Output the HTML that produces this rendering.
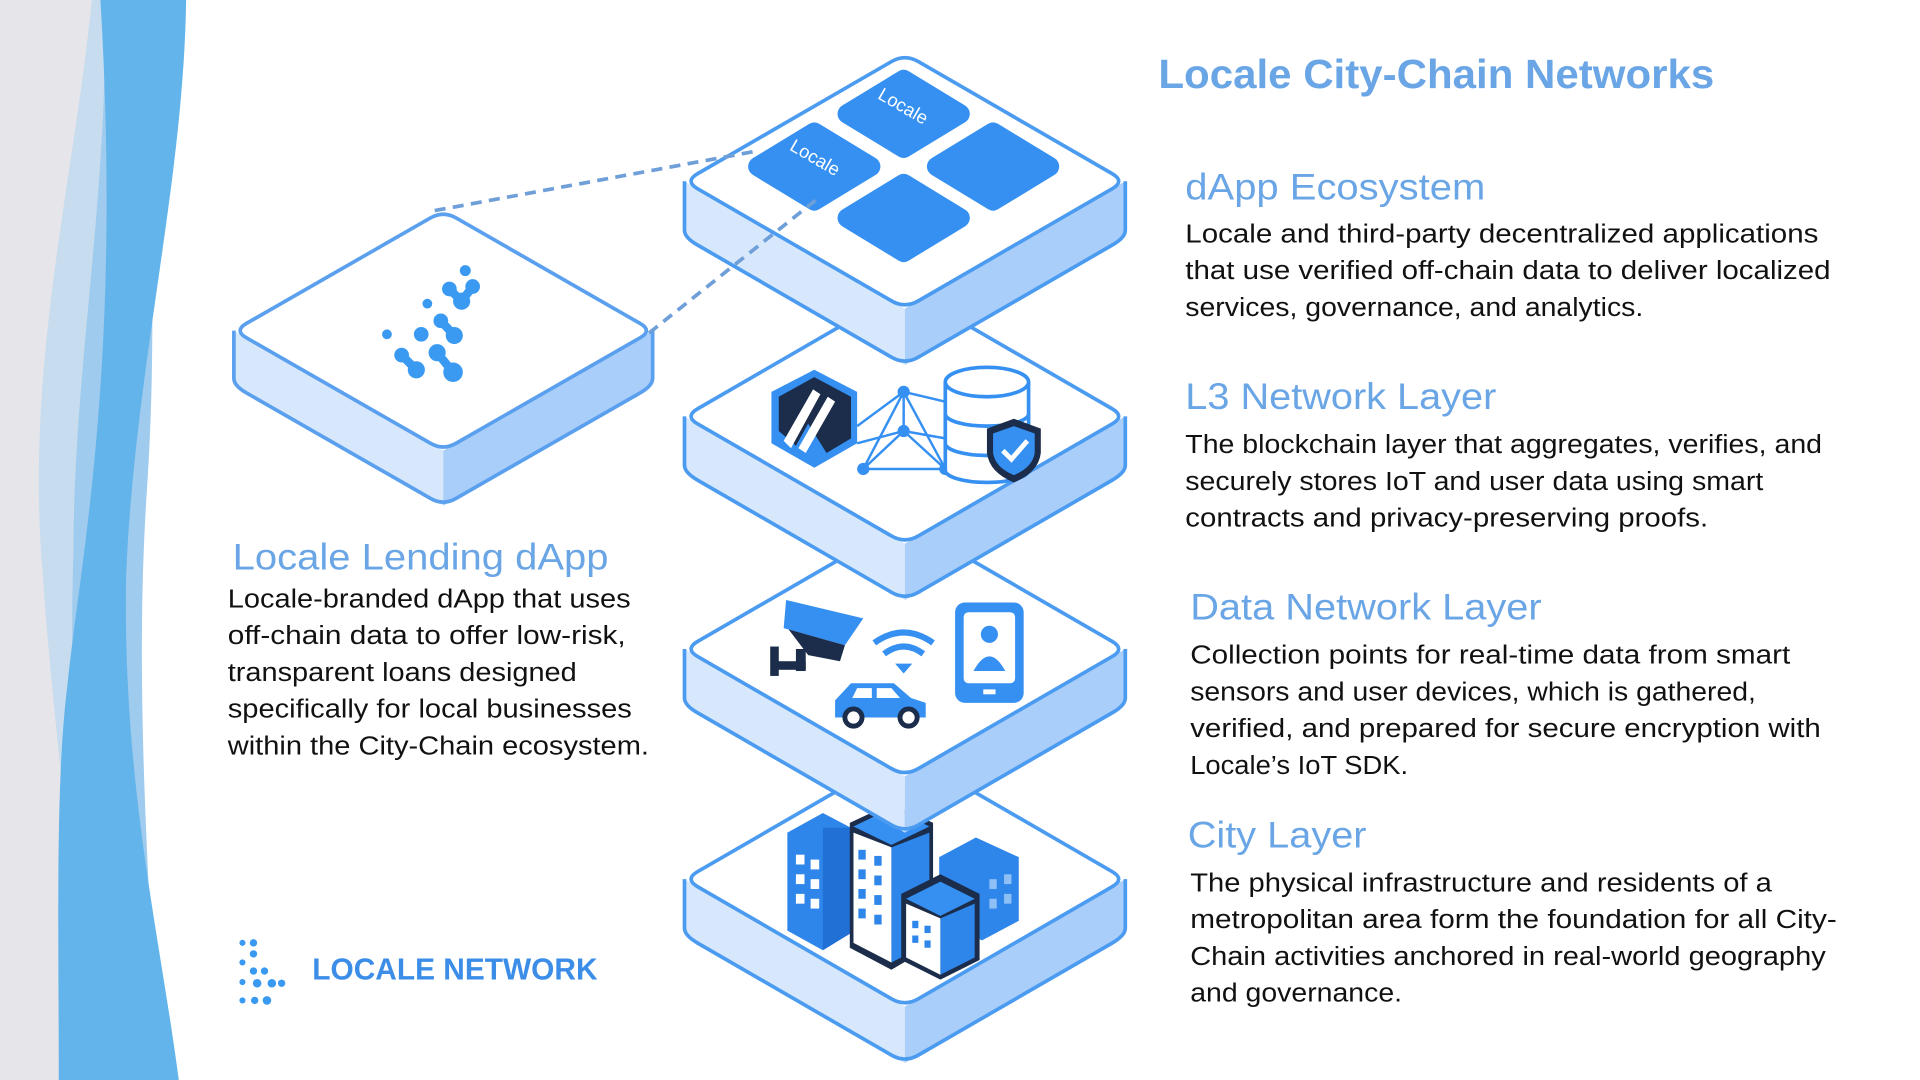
<!DOCTYPE html>
<html><head><meta charset="utf-8"><style>
html,body{margin:0;padding:0;background:#fff;overflow:hidden}
svg{display:block}
text{font-family:"Liberation Sans","DejaVu Sans",sans-serif}
</style></head><body>
<svg width="1920" height="1080" viewBox="0 0 1568 882" preserveAspectRatio="none" xmlns="http://www.w3.org/2000/svg">
<defs>
<g id="tile">
  <path d="M559,0 L739,104 L739,150 L569.8,52.2 Q559,46 559,40 Z" fill="#d7e8fd"/>
  <path d="M739,104 L919,0 L919,40 Q919,46 908.2,52.2 L739,150 Z" fill="#a9cefa"/>
  <path d="M559,0 L559,40 Q559,46 569.8,52.2 L728.2,143.8 Q739,150 749.8,143.8 L908.2,52.2 Q919,46 919,40 L919,0" fill="none" stroke="#4b9bf0" stroke-width="3"/>
  <path d="M749.8,-97.8 L908.2,-6.2 Q919,0 908.2,6.2 L749.8,97.8 Q739,104 728.2,97.8 L569.8,6.2 Q559,0 569.8,-6.2 L728.2,-97.8 Q739,-104 749.8,-97.8Z" fill="#fff" stroke="#4b9bf0" stroke-width="3"/>
</g>
<g id="sq"><path d="M0,-28 L46,0 L0,28 L-46,0 Z" fill="#3590f2" stroke="#3590f2" stroke-width="16" stroke-linejoin="round"/></g>
</defs>
<rect width="1568" height="882" fill="#fff"/>
<rect x="0" y="0" width="100" height="882" fill="#e5e5ea"/>
<path d="M75,0 C60,150 20,300 35,470 C45,620 70,760 60,882 L100,882 L100,0Z" fill="#c7dcee"/>
<path d="M85,0 C90,150 60,300 60,450 C55,600 70,750 75,882 L130,882 C120,700 110,550 120,400 C130,250 120,120 120,0Z" fill="#9fcbee"/>
<path d="M82,0 L152,0 C150,150 110,300 103,470 C100,640 130,760 146,882 L48,882 C48,760 45,640 55,560 C65,460 100,300 82,0Z" fill="#63b4ea"/>

<use href="#tile" transform="translate(0,718)"/>
<g>
 <path d="M643,680 L672,664 L695,676 L695,762 L672,776 L643,760Z" fill="#2f86ea"/>
 <path d="M672,676 L695,676 L695,762 L672,776Z" fill="#2170d6"/>
 <g fill="#fff"><rect x="650" y="698" width="7" height="8"/><rect x="662" y="702" width="7" height="8"/><rect x="650" y="714" width="7" height="8"/><rect x="662" y="718" width="7" height="8"/><rect x="650" y="730" width="7" height="8"/><rect x="662" y="734" width="7" height="8"/></g>
 <path d="M694,672 L728,656 L762,672 L762,772 L728,792 L694,774Z" fill="#1b2d4a"/>
 <path d="M697,675 L728,660 L759,675 L728,690Z" fill="#3590f2"/>
 <path d="M697,680 L728,692 L728,786 L697,770Z" fill="#fff"/>
 <path d="M728,692 L759,680 L759,770 L728,786Z" fill="#2f86ea"/>
 <g fill="#2f86ea"><rect x="701" y="694" width="6" height="8"/><rect x="714" y="699" width="6" height="8"/><rect x="701" y="710" width="6" height="8"/><rect x="714" y="715" width="6" height="8"/><rect x="701" y="726" width="6" height="8"/><rect x="714" y="731" width="6" height="8"/><rect x="701" y="742" width="6" height="8"/><rect x="714" y="747" width="6" height="8"/></g>
 <path d="M767,700 L797,684 L832,700 L832,752 L802,768 L767,752Z" fill="#2f86ea"/>
 <g fill="#8ec0f6"><rect x="808" y="718" width="6" height="8"/><rect x="820" y="714" width="6" height="8"/><rect x="808" y="734" width="6" height="8"/><rect x="820" y="730" width="6" height="8"/></g>
 <path d="M736,730 L768,714 L800,730 L800,784 L768,800 L736,784Z" fill="#1b2d4a"/>
 <path d="M740,734 L768,720 L796,734 L768,748Z" fill="#3590f2"/>
 <path d="M740,738 L768,750 L768,796 L740,782Z" fill="#fff"/>
 <path d="M768,750 L796,738 L796,782 L768,796Z" fill="#2f86ea"/>
 <g fill="#2f86ea"><rect x="745" y="752" width="5" height="6"/><rect x="755" y="756" width="5" height="6"/><rect x="745" y="764" width="5" height="6"/><rect x="755" y="768" width="5" height="6"/></g>
</g>

<use href="#tile" transform="translate(0,530)"/>
<g>
 <path d="M642,490 L705,505 L690,527 L640,513Z" fill="#3590f2"/>
 <path d="M644,514 L690,527 L686,540 L660,535 Z" fill="#1b2d4a"/>
 <rect x="650" y="530" width="8" height="18" fill="#1b2d4a"/>
 <rect x="630" y="540" width="28" height="7" fill="#1b2d4a"/>
 <rect x="629" y="528" width="7" height="24" fill="#1b2d4a"/>
 <path d="M714,525 Q738,508 762,525" stroke="#3590f2" stroke-width="5" fill="none"/>
 <path d="M722,534 Q738,522 754,534" stroke="#3590f2" stroke-width="5" fill="none"/>
 <path d="M731,542 L745,542 L738,550Z" fill="#3590f2"/>
 <path d="M682,572 L695,558 L730,558 L744,570 L756,574 L756,586 L682,586Z" fill="#3590f2"/>
 <path d="M700,562 L712,562 L712,570 L696,570Z M716,562 L728,562 L735,570 L716,570Z" fill="#fff"/>
 <circle cx="697" cy="586" r="7" fill="#fff" stroke="#1b2d4a" stroke-width="4"/>
 <circle cx="742" cy="586" r="7" fill="#fff" stroke="#1b2d4a" stroke-width="4"/>
 <rect x="780" y="492" width="56" height="82" rx="8" fill="#3590f2"/>
 <rect x="787" y="500" width="42" height="58" rx="4" fill="#fff"/>
 <circle cx="808" cy="518" r="7" fill="#3590f2"/>
 <path d="M795,548 Q808,524 821,548Z" fill="#3590f2"/>
 <rect x="803" y="563" width="10" height="4" fill="#fff"/>
</g>

<use href="#tile" transform="translate(0,340)"/>
<g>
 <g stroke="#3590f2" stroke-width="2" fill="none"><path d="M700,348 L738,320 L772,328 M700,362 L738,352 L772,358 M738,320 L738,352 L705,383 L772,383 L738,352 M705,383 L738,320 M772,383 L738,320"/></g>
 <g fill="#3590f2"><circle cx="738" cy="320" r="5"/><circle cx="738" cy="352" r="5"/><circle cx="705" cy="383" r="5"/><circle cx="772" cy="383" r="5"/></g>
 <path d="M665,302 L700,320 L700,362 L665,382 L630,362 L630,320Z" fill="#3590f2"/>
 <path d="M665,308 L695,324 L695,358 L675,370 L660,346 L650,364 L636,352 L636,324Z" fill="#1b2d4a"/>
 <path d="M640,360 L664,318 L670,322 L646,366Z M652,366 L676,324 L682,328 L658,370Z" fill="#fff"/>
 <g fill="#fff" stroke="#3590f2" stroke-width="3">
  <path d="M772,362 L772,384 A34,10 0 0 0 840,384 L840,362"/>
  <path d="M772,338 L772,362 A34,10 0 0 0 840,362 L840,338"/>
  <path d="M772,312 L772,338 A34,10 0 0 0 840,338 L840,312"/>
  <ellipse cx="806" cy="312" rx="34" ry="12"/>
 </g>
 <path d="M828,342 L850,350 L850,370 Q848,386 828,394 Q808,386 806,370 L806,350Z" fill="#1b2d4a"/>
 <path d="M828,348 L845,354 L845,370 Q843,382 828,388 Q813,382 811,370 L811,354Z" fill="#3590f2"/>
 <path d="M819,368 L826,375 L839,360" stroke="#fff" stroke-width="4" fill="none"/>
</g>

<use href="#tile" transform="translate(0,148)"/>
<use href="#sq" transform="translate(738,93)"/>
<use href="#sq" transform="translate(665,136)"/>
<use href="#sq" transform="translate(811,136)"/>
<use href="#sq" transform="translate(738,178)"/>
<text x="0" y="0" transform="translate(716,80) rotate(30)" fill="#fff" font-size="15">Locale</text>
<text x="0" y="0" transform="translate(644,122) rotate(30)" fill="#fff" font-size="15">Locale</text>

<!-- left tile -->
<path d="M191,270 L362,368 L362,413 L201.3,320.9 Q191,315 191,309Z" fill="#d7e8fd"/>
<path d="M362,368 L533,270 L533,309 Q533,315 522.7,320.9 L362,413Z" fill="#a9cefa"/>
<path d="M191,270 L191,309 Q191,315 201.3,320.9 L351.7,407.1 Q362,413 372.3,407.1 L522.7,320.9 Q533,315 533,309 L533,270" fill="none" stroke="#5aa0ee" stroke-width="3"/>
<path d="M372.3,177.9 L522.7,264.1 Q533,270 522.7,275.9 L372.3,362.1 Q362,368 351.7,362.1 L201.3,275.9 Q191,270 201.3,264.1 L351.7,177.9 Q362,172 372.3,177.9Z" fill="#fff" stroke="#5aa0ee" stroke-width="3"/>
<g fill="#3a9af2">
 <circle cx="380" cy="221" r="4.5"/><circle cx="367" cy="236" r="6"/><circle cx="386" cy="234" r="6"/><circle cx="377" cy="246" r="7"/>
 <path d="M367,236 L377,246 L386,234" stroke="#3a9af2" stroke-width="7" fill="none"/>
 <circle cx="349" cy="248" r="4"/><circle cx="360" cy="262" r="6"/><circle cx="371" cy="274" r="7"/>
 <path d="M360,262 L371,274" stroke="#3a9af2" stroke-width="7"/>
 <circle cx="316" cy="273" r="4"/><circle cx="344" cy="273" r="6"/>
 <circle cx="328" cy="290" r="6"/><circle cx="340" cy="302" r="7"/><path d="M328,290 L340,302" stroke="#3a9af2" stroke-width="7"/>
 <circle cx="357" cy="288" r="7"/><circle cx="370" cy="304" r="8"/><path d="M357,288 L370,304" stroke="#3a9af2" stroke-width="7"/>
</g>
<g stroke="#6f9fd8" stroke-width="3" stroke-dasharray="9,6" fill="none"><path d="M355,172 L620,123"/><path d="M530,272 L668,162"/></g>

<text x="946" y="72" fill="#6aa5e6" font-size="33" font-weight="bold" textLength="454" lengthAdjust="spacingAndGlyphs">Locale City-Chain Networks</text>
<g fill="#6aa5e6" font-size="30">
<text x="968" y="163" textLength="245" lengthAdjust="spacingAndGlyphs">dApp Ecosystem</text>
<text x="968" y="334" textLength="254" lengthAdjust="spacingAndGlyphs">L3 Network Layer</text>
<text x="972" y="506" textLength="287" lengthAdjust="spacingAndGlyphs">Data Network Layer</text>
<text x="970" y="692" textLength="146" lengthAdjust="spacingAndGlyphs">City Layer</text>
<text x="190" y="465" textLength="307" lengthAdjust="spacingAndGlyphs">Locale Lending dApp</text>
</g>
<g fill="#111" font-size="21">
<text x="968" y="198" textLength="517" lengthAdjust="spacingAndGlyphs">Locale and third-party decentralized applications</text>
<text x="968" y="228" textLength="527" lengthAdjust="spacingAndGlyphs">that use verified off-chain data to deliver localized</text>
<text x="968" y="258" textLength="374" lengthAdjust="spacingAndGlyphs">services, governance, and analytics.</text>
<text x="968" y="370" textLength="520" lengthAdjust="spacingAndGlyphs">The blockchain layer that aggregates, verifies, and</text>
<text x="968" y="400" textLength="472" lengthAdjust="spacingAndGlyphs">securely stores IoT and user data using smart</text>
<text x="968" y="430" textLength="427" lengthAdjust="spacingAndGlyphs">contracts and privacy-preserving proofs.</text>
<text x="972" y="542" textLength="490" lengthAdjust="spacingAndGlyphs">Collection points for real-time data from smart</text>
<text x="972" y="572" textLength="462" lengthAdjust="spacingAndGlyphs">sensors and user devices, which is gathered,</text>
<text x="972" y="602" textLength="515" lengthAdjust="spacingAndGlyphs">verified, and prepared for secure encryption with</text>
<text x="972" y="632" textLength="178" lengthAdjust="spacingAndGlyphs">Locale’s IoT SDK.</text>
<text x="972" y="728" textLength="475" lengthAdjust="spacingAndGlyphs">The physical infrastructure and residents of a</text>
<text x="972" y="758" textLength="528" lengthAdjust="spacingAndGlyphs">metropolitan area form the foundation for all City-</text>
<text x="972" y="788" textLength="519" lengthAdjust="spacingAndGlyphs">Chain activities anchored in real-world geography</text>
<text x="972" y="818" textLength="173" lengthAdjust="spacingAndGlyphs">and governance.</text>
<text x="186" y="496" textLength="329" lengthAdjust="spacingAndGlyphs">Locale-branded dApp that uses</text>
<text x="186" y="526" textLength="325" lengthAdjust="spacingAndGlyphs">off-chain data to offer low-risk,</text>
<text x="186" y="556" textLength="285" lengthAdjust="spacingAndGlyphs">transparent loans designed</text>
<text x="186" y="586" textLength="330" lengthAdjust="spacingAndGlyphs">specifically for local businesses</text>
<text x="186" y="616" textLength="344" lengthAdjust="spacingAndGlyphs">within the City-Chain ecosystem.</text>
</g>
<g fill="#3a9af2">
 <circle cx="198" cy="770" r="2.5"/><circle cx="207" cy="770" r="3"/><circle cx="207" cy="779" r="3"/><circle cx="198" cy="786" r="2.5"/>
 <circle cx="207" cy="793" r="3"/><circle cx="216" cy="793" r="3"/><circle cx="198" cy="802" r="2.5"/><circle cx="210" cy="803" r="3.5"/><circle cx="222" cy="803" r="3.5"/><circle cx="230" cy="803" r="3"/>
 <circle cx="198" cy="817" r="2.5"/><circle cx="208" cy="817" r="3"/><circle cx="218" cy="817" r="3.5"/>
</g>
<text x="255" y="800" fill="#3b8de8" font-size="25" font-weight="bold" textLength="233" lengthAdjust="spacingAndGlyphs">LOCALE NETWORK</text>
</svg>
</body></html>
